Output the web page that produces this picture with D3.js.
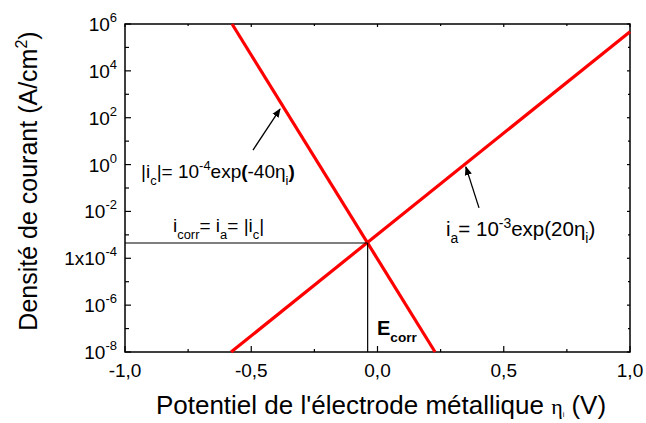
<!DOCTYPE html>
<html>
<head>
<meta charset="utf-8">
<script src="https://cdn.jsdelivr.net/npm/d3@7"></script>
<style>
  body { margin: 0; background: #fff; }
  text { font-family: "Liberation Sans", Arial, sans-serif; fill: #000; }
</style>
</head>
<body>
<svg width="646" height="423"></svg>
<script>
var svg = d3.select('svg');
var margin = {left: 125, top: 24, right: 16, bottom: 71};
var width = 646 - margin.left - margin.right;
var height = 423 - margin.top - margin.bottom;

// data
var anodicEta = [-0.58, 1.0];          // i_a line end points (V)
var anodicI = [1e-8, 4.7e5];           // A/cm2
var cathodicEta = [-0.576, 0.228];     // |i_c| line end points
var cathodicI = [1e6, 1e-8];
var corrEta = -0.039;                  // E_corr
var corrI = 4.5e-4;                    // i_corr
var xTicks = [-1, -0.5, 0, 0.5, 1];
var xTickLabels = ['-1,0', '-0,5', '0,0', '0,5', '1,0'];
var xMinorTicks = [-0.75, -0.25, 0.25, 0.75];
var yTickExps = [6, 4, 2, 0, -2, -4, -6, -8];
var yTickPrefix = ['10', '10', '10', '10', '10', '1x10', '10', '10'];
var yMinorExps = [5, 3, 1, -1, -3, -5, -7];

var x = d3.scaleLinear().domain([-1, 1]).range([0, width]);
var y = d3.scaleLog().domain([1e-8, 1e6]).range([height, 0]);

var g = svg.append('g').attr('transform', 'translate(' + margin.left + ',' + margin.top + ')');

// frame
g.append('rect')
  .attr('width', width).attr('height', height)
  .attr('fill', 'none').attr('stroke', '#000').attr('stroke-width', 1.5);

// ticks (inside, all four sides)
var ticks = g.append('g').attr('stroke', '#000').attr('stroke-width', 1.2);
xTicks.forEach(function (t) {
  ticks.append('line').attr('x1', x(t)).attr('x2', x(t)).attr('y1', height).attr('y2', height - 6);
  ticks.append('line').attr('x1', x(t)).attr('x2', x(t)).attr('y1', 0).attr('y2', 3);
});
xMinorTicks.forEach(function (t) {
  ticks.append('line').attr('x1', x(t)).attr('x2', x(t)).attr('y1', height).attr('y2', height - 3);
  ticks.append('line').attr('x1', x(t)).attr('x2', x(t)).attr('y1', 0).attr('y2', 2);
});
yTickExps.forEach(function (e) {
  var yy = y(Math.pow(10, e));
  ticks.append('line').attr('x1', 0).attr('x2', 6).attr('y1', yy).attr('y2', yy);
  ticks.append('line').attr('x1', width).attr('x2', width - 3).attr('y1', yy).attr('y2', yy);
});
yMinorExps.forEach(function (e) {
  var yy = y(Math.pow(10, e));
  ticks.append('line').attr('x1', 0).attr('x2', 4).attr('y1', yy).attr('y2', yy);
  ticks.append('line').attr('x1', width).attr('x2', width - 2).attr('y1', yy).attr('y2', yy);
});

// tick labels
xTicks.forEach(function (t, i) {
  g.append('text')
    .attr('x', x(t)).attr('y', height + 25)
    .attr('text-anchor', 'middle')
    .style('font-size', '19px')
    .text(xTickLabels[i]);
});
yTickExps.forEach(function (e, i) {
  var t = g.append('text')
    .attr('x', -8).attr('y', y(Math.pow(10, e)) + 7)
    .attr('text-anchor', 'end')
    .style('font-size', '19px');
  t.append('tspan').text(yTickPrefix[i]);
  t.append('tspan').attr('dy', -9).style('font-size', '13px').text(e);
});

// polarisation lines
var line = d3.line().x(d => x(d[0])).y(d => y(d[1]));
g.append('path')
  .datum(d3.zip(anodicEta, anodicI))
  .attr('d', line).attr('fill', 'none').attr('stroke', '#ff0000').attr('stroke-width', 3.2);
g.append('path')
  .datum(d3.zip(cathodicEta, cathodicI))
  .attr('d', line).attr('fill', 'none').attr('stroke', '#ff0000').attr('stroke-width', 3.2);

// corrosion point guides
g.append('line')
  .attr('x1', 0).attr('x2', x(corrEta)).attr('y1', y(corrI)).attr('y2', y(corrI))
  .attr('stroke', '#000').attr('stroke-width', 1.2);
g.append('line')
  .attr('x1', x(corrEta)).attr('x2', x(corrEta)).attr('y1', y(corrI)).attr('y2', height)
  .attr('stroke', '#000').attr('stroke-width', 1.2);

// arrows
svg.append('defs').append('marker')
  .attr('id', 'arr').attr('viewBox', '0 0 10 10').attr('refX', 9).attr('refY', 5)
  .attr('markerWidth', 9).attr('markerHeight', 9).attr('orient', 'auto')
  .attr('markerUnits', 'userSpaceOnUse')
  .append('path').attr('d', 'M0,1 L10,5 L0,9 Z').attr('fill', '#000');
function arrow(e0, i0, e1, i1) {
  g.append('line')
    .attr('x1', x(e0)).attr('y1', y(i0)).attr('x2', x(e1)).attr('y2', y(i1))
    .attr('stroke', '#000').attr('stroke-width', 1.3).attr('marker-end', 'url(#arr)');
}
arrow(-0.493, Math.pow(10, 0.62), -0.386, Math.pow(10, 2.37));
arrow(0.402, Math.pow(10, -1.85), 0.35, Math.pow(10, -0.1));

// annotation helper: parts = [text, kind] kind: n normal, sub, sup, b bold
function label(px, py, parts, size) {
  var t = svg.append('text').attr('x', px).attr('y', py).style('font-size', size + 'px');
  var shift = 0;
  parts.forEach(function (p) {
    var s = t.append('tspan').text(p[0]);
    var target = 0;
    if (p[1] === 'sub') { target = 7; s.style('font-size', (size * 0.68) + 'px'); }
    else if (p[1] === 'sup') { target = -8; s.style('font-size', (size * 0.68) + 'px'); }
    else if (p[1] === 'b') { s.style('font-weight', 'bold'); }
    s.attr('dy', target - shift);
    shift = target;
  });
  return t;
}
label(141, 178, [['|i', 'n'], ['c', 'sub'], ['|= 10', 'n'], ['-4', 'sup'], ['exp', 'n'], ['(', 'b'], ['-40\u03b7', 'n'], ['i', 'sub'], [')', 'b']], 19);
label(173, 232, [['i', 'n'], ['corr', 'sub'], ['= i', 'n'], ['a', 'sub'], ['= |i', 'n'], ['c', 'sub'], ['|', 'n']], 19);
label(446, 236, [['i', 'n'], ['a', 'sub'], ['= 10', 'n'], ['-3', 'sup'], ['exp', 'n'], ['(', 'n'], ['20\u03b7', 'n'], ['i', 'sub'], [')', 'n']], 20.5);
var ec = label(377, 335, [['E', 'n'], ['corr', 'sub']], 20);
ec.style('font-weight', 'bold');

// axis titles
var xt = svg.append('text')
  .attr('x', 381).attr('y', 414)
  .attr('text-anchor', 'middle').style('font-size', '26px');
xt.append('tspan').text("Potentiel de l'\u00e9lectrode m\u00e9tallique ");
xt.append('tspan').style('font-size', '22px').style('font-family', '"Liberation Serif", serif').text('\u03b7');
xt.append('tspan').attr('dy', 3).style('font-size', '7px').text('i');
xt.append('tspan').attr('dy', -3).text(' (V)');

var yt = svg.append('text')
  .attr('transform', 'translate(37,181)rotate(-90)')
  .attr('text-anchor', 'middle').style('font-size', '25px');
yt.append('tspan').text('Densit\u00e9 de courant (A/cm');
yt.append('tspan').attr('dy', -10).style('font-size', '16px').text('2');
yt.append('tspan').attr('dy', 10).text(')');
</script>
</body>
</html>
